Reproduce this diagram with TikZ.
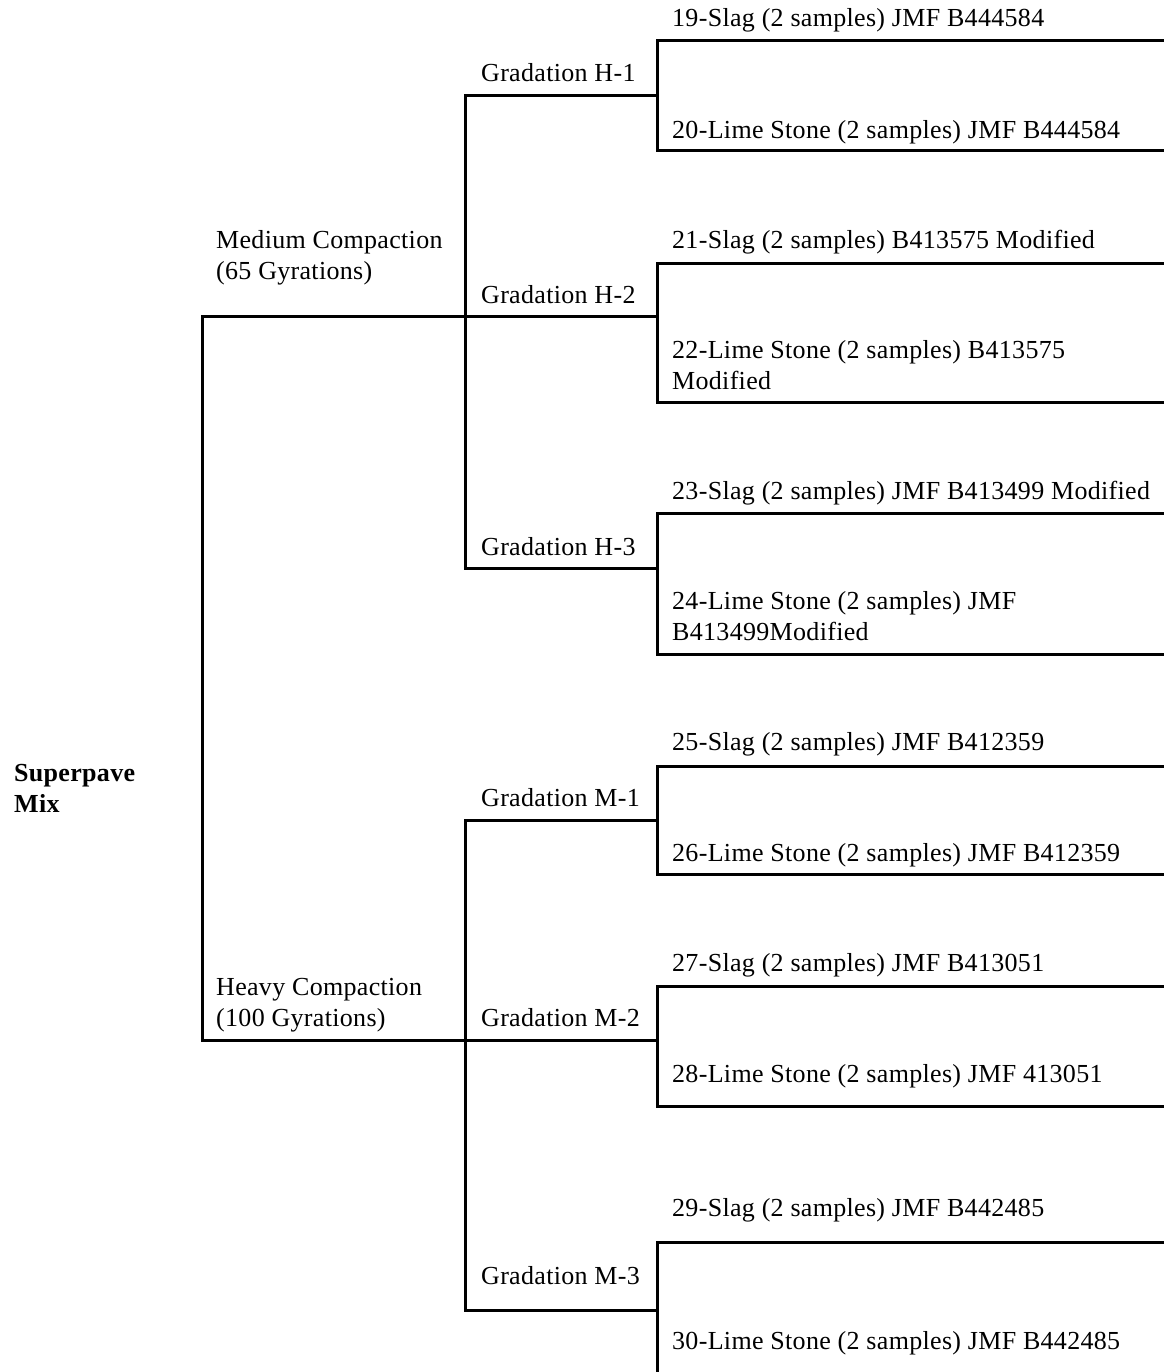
\documentclass[tikz,border=0pt]{standalone}
\usepackage{fontspec}
\setmainfont{Liberation Serif}[LetterSpace=1.2]
\begin{document}
\begin{tikzpicture}[x=1pt,y=-1pt,
  lbl/.style={anchor=base west,inner sep=0pt,align=left,font=\fontsize{26}{30.5}\selectfont},
  rootlbl/.style={lbl,font=\fontsize{26}{30.5}\selectfont\bfseries},
  branch/.style={line width=3pt,line cap=rect}]
\useasboundingbox (0,0) rectangle (1163,1372);
% text (multi-line nodes are placed by the baseline of their last line)
\node[rootlbl] (root) at (14,812) {Superpave\\Mix};
\node[lbl] (med) at (216,279) {Medium Compaction\\(65 Gyrations)};
\node[lbl] (hvy) at (216,1026) {Heavy Compaction\\(100 Gyrations)};
\node[lbl] (gh1) at (481,82) {Gradation H-1};
\node[lbl] (gh2) at (481,303) {Gradation H-2};
\node[lbl] (gh3) at (481,555) {Gradation H-3};
\node[lbl] (gm1) at (481,806) {Gradation M-1};
\node[lbl] (gm2) at (481,1026) {Gradation M-2};
\node[lbl] (gm3) at (481,1284) {Gradation M-3};
\node[lbl] (l19) at (672,27) {19-Slag (2 samples) JMF B444584};
\node[lbl] (l20) at (672,139) {20-Lime Stone (2 samples) JMF B444584};
\node[lbl] (l21) at (672,248) {21-Slag (2 samples) B413575 Modified};
\node[lbl] (l22) at (672,389) {22-Lime Stone (2 samples) B413575\\Modified};
\node[lbl] (l23) at (672,499) {23-Slag (2 samples) JMF B413499 Modified};
\node[lbl] (l24) at (672,640) {24-Lime Stone (2 samples) JMF\\B413499Modified};
\node[lbl] (l25) at (672,750) {25-Slag (2 samples) JMF B412359};
\node[lbl] (l26) at (672,861) {26-Lime Stone (2 samples) JMF B412359};
\node[lbl] (l27) at (672,971) {27-Slag (2 samples) JMF B413051};
\node[lbl] (l28) at (672,1082) {28-Lime Stone (2 samples) JMF 413051};
\node[lbl] (l29) at (672,1216) {29-Slag (2 samples) JMF B442485};
\node[lbl] (l30) at (672,1349) {30-Lime Stone (2 samples) JMF B442485};
% junction coordinates
\coordinate (rT) at (202,316);
\coordinate (rB) at (202,1040);
\coordinate (mJ) at (465,316);
\coordinate (hJ) at (465,1040);
\coordinate (mT) at (465,96);
\coordinate (mB) at (465,568);
\coordinate (hT) at (465,820);
\coordinate (hB) at (465,1310);
% bracket corners
\coordinate (b1t) at (657,41);   \coordinate (b1b) at (657,151);
\coordinate (b2t) at (657,263);  \coordinate (b2b) at (657,402);
\coordinate (b3t) at (657,513);  \coordinate (b3b) at (657,654);
\coordinate (b4t) at (657,766);  \coordinate (b4b) at (657,874);
\coordinate (b5t) at (657,986);  \coordinate (b5b) at (657,1106);
\coordinate (b6t) at (657,1242); \coordinate (b6b) at (657,1380);
\coordinate (b1m) at (657,96);
\coordinate (b2m) at (657,316);
\coordinate (b3m) at (657,568);
\coordinate (b4m) at (657,820);
\coordinate (b5m) at (657,1040);
\coordinate (b6m) at (657,1310);
% root bracket
\draw[branch] (mJ) -- (rT) -- (rB) -- (hJ);
% compaction brackets
\draw[branch] (mT) -- (mB);
\draw[branch] (hT) -- (hB);
\draw[branch] (mT) -- (b1m);
\draw[branch] (mJ) -- (b2m);
\draw[branch] (mB) -- (b3m);
\draw[branch] (hT) -- (b4m);
\draw[branch] (hJ) -- (b5m);
\draw[branch] (hB) -- (b6m);
% leaf brackets
\foreach \i in {1,...,5}{
  \draw[branch] (b\i t -| 1170,0) -- (b\i t) -- (b\i b) -- (b\i b -| 1170,0);
}
\draw[branch] (b6t -| 1170,0) -- (b6t) -- (b6b);
\end{tikzpicture}
\end{document}
